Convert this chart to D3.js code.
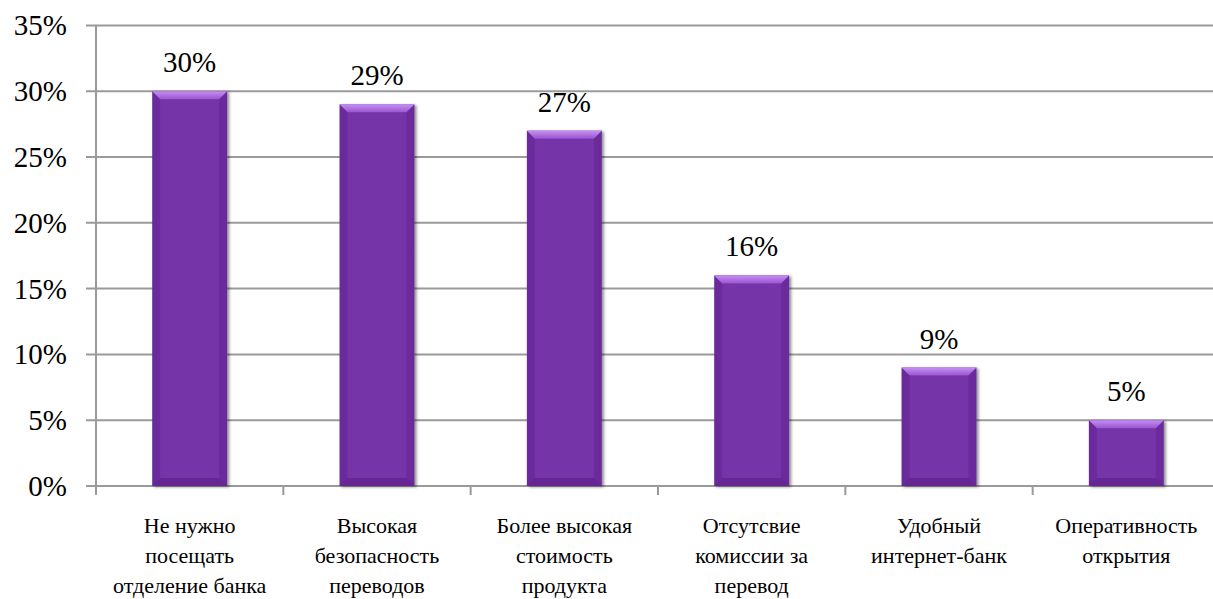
<!DOCTYPE html>
<html><head><meta charset="utf-8">
<script src="https://cdn.jsdelivr.net/npm/d3@7"></script>
</head>
<body><svg id="c" width="1213" height="599"></svg>
<script>
const categories = [
  ["Не нужно","посещать","отделение банка"],
  ["Высокая","безопасность","переводов"],
  ["Более высокая","стоимость","продукта"],
  ["Отсутсвие","комиссии за","перевод"],
  ["Удобный","интернет-банк"],
  ["Оперативность","открытия"]
];
const values = [30, 29, 27, 16, 9, 5];
const dataLabels = ["30%","29%","27%","16%","9%","5%"];
const yTicks = [0,5,10,15,20,25,30,35];

d3.select("body").style("margin","0px");
const svg = d3.select("#c");
const FF = '"Liberation Serif"';
const left = 96, bottom = 486, topY = 25.4, right = 1220;
const x = d3.scaleBand().domain(d3.range(values.length)).range([left, right]).paddingInner(0.6).paddingOuter(0.3);
const xb = d3.scaleBand().domain(d3.range(values.length)).range([left, right]);
const y = d3.scaleLinear().domain([0,35]).range([bottom, topY]);

const defs = svg.append("defs");
const f = defs.append("filter").attr("id","sh").attr("x","-20%").attr("y","-10%").attr("width","150%").attr("height","130%");
f.append("feDropShadow").attr("dx",2).attr("dy",1).attr("stdDeviation",1.5).attr("flood-color","#000").attr("flood-opacity",0.45);
const gTop = defs.append("linearGradient").attr("id","gt").attr("x1",0).attr("y1",0).attr("x2",0).attr("y2",1);
gTop.append("stop").attr("offset",0).attr("stop-color","#c590f2");
gTop.append("stop").attr("offset",1).attr("stop-color","#9a55d0");
const gBody = defs.append("linearGradient").attr("id","gb").attr("x1",0).attr("y1",0).attr("x2",1).attr("y2",0);
gBody.append("stop").attr("offset",0).attr("stop-color","#6a2a9a");
gBody.append("stop").attr("offset",0.5).attr("stop-color","#7534a8");
gBody.append("stop").attr("offset",1).attr("stop-color","#6a2a9a");

svg.append("g").selectAll("line").data(yTicks).join("line")
  .attr("x1", left-10).attr("x2", 1213).attr("y1", d=>y(d)).attr("y2", d=>y(d))
  .attr("stroke","#9a9a9a").attr("stroke-width",2);
svg.append("line").attr("x1",left).attr("x2",left).attr("y1",y(35)).attr("y2",bottom)
  .attr("stroke","#9a9a9a").attr("stroke-width",2);
svg.append("g").selectAll("line").data(d3.range(values.length+1)).join("line")
  .attr("x1", d=> d<values.length ? xb(d) : right).attr("x2", d=> d<values.length ? xb(d) : right)
  .attr("y1", bottom).attr("y2", bottom+9).attr("stroke","#9a9a9a").attr("stroke-width",2);

const bev = 8;
const bars = svg.append("g").selectAll("g").data(values).join("g");
bars.append("rect").attr("x",(d,i)=>x(i)).attr("y",d=>y(d)).attr("width",x.bandwidth()).attr("height",d=>bottom-y(d))
  .attr("fill","url(#gb)").attr("filter","url(#sh)");
bars.append("rect").attr("x",(d,i)=>x(i)+bev).attr("y",d=>y(d)+bev).attr("width",x.bandwidth()-2*bev).attr("height",d=>Math.max(0,bottom-y(d)-2*bev))
  .attr("fill","#7535a8");
bars.append("path").attr("d",(d,i)=>{
  const x0=x(i), x1=x(i)+x.bandwidth(), t=y(d);
  return `M${x0},${t}L${x1},${t}L${x1-bev},${t+bev}L${x0+bev},${t+bev}Z`;
}).attr("fill","url(#gt)");
bars.append("path").attr("d",(d,i)=>{
  const x0=x(i), x1=x(i)+x.bandwidth();
  return `M${x0},${bottom}L${x1},${bottom}L${x1-bev},${bottom-bev}L${x0+bev},${bottom-bev}Z`;
}).attr("fill","#652794");

svg.selectAll("text.yl").data(yTicks).join("text").attr("class","yl")
  .attr("font-size",29).style("font-family",FF)
  .attr("x", 67).attr("y", d=>y(d)+10).attr("text-anchor","end").text(d=>d+"%");

svg.selectAll("text.dl").data(values).join("text").attr("class","dl")
  .attr("font-size",29).style("font-family",FF)
  .attr("x",(d,i)=>x(i)+x.bandwidth()/2).attr("y",d=>y(d)-19).attr("text-anchor","middle")
  .text((d,i)=>dataLabels[i]);

const lines = [];
categories.forEach((c,i)=>c.forEach((s,j)=>lines.push({s,i,j})));
svg.selectAll("text.cl").data(lines).join("text").attr("class","cl")
  .attr("font-size",22).style("font-family",FF)
  .attr("x",d=>xb(d.i)+xb.bandwidth()/2).attr("y",d=>533+d.j*30).attr("text-anchor","middle")
  .text(d=>d.s);
</script></body></html>
